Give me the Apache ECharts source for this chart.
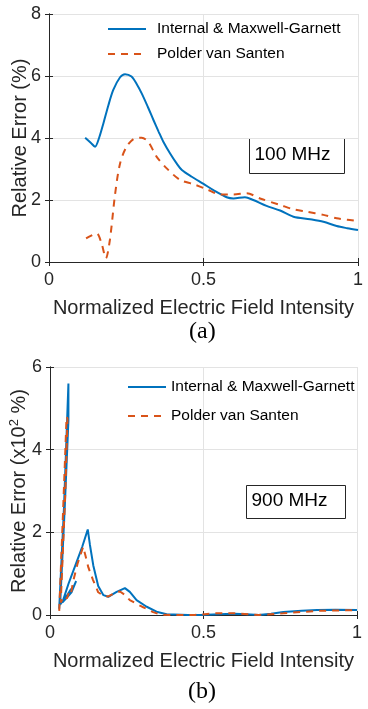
<!DOCTYPE html>
<html>
<head>
<meta charset="utf-8">
<script src="https://cdn.jsdelivr.net/npm/echarts@6/dist/echarts.min.js"></script>
<style>
  html, body { margin: 0; padding: 0; background: #fff; }
  #chart { width: 368px; height: 709px; }
</style>
</head>
<body>
<div id="chart"></div>
<script>
// 数据 (a) 100 MHz
const xTicks = [0, 0.5, 1];
const seriesNames = ['Internal & Maxwell-Garnett', 'Polder van Santen'];

const mg100 = [
  [0.117, 4.01], [0.135, 3.85], [0.149, 3.72], [0.162, 4.0], [0.176, 4.47], [0.192, 5.05],
  [0.208, 5.55], [0.23, 5.96], [0.246, 6.06], [0.267, 5.98], [0.285, 5.72], [0.30, 5.44],
  [0.32, 5.0], [0.338, 4.58], [0.355, 4.2], [0.37, 3.88], [0.392, 3.5], [0.413, 3.18],
  [0.43, 2.97], [0.462, 2.75], [0.5, 2.52], [0.532, 2.32], [0.575, 2.09], [0.597, 2.05],
  [0.634, 2.09], [0.661, 2.0], [0.704, 1.81], [0.748, 1.66], [0.791, 1.46], [0.845, 1.38],
  [0.888, 1.30], [0.931, 1.16], [0.965, 1.09], [1.0, 1.03]
];
const pvs100 = [
  [0.12, 0.76], [0.154, 0.92], [0.17, 0.6], [0.184, 0.12], [0.197, 0.71], [0.214, 2.2],
  [0.23, 3.18], [0.251, 3.72], [0.278, 3.99], [0.30, 4.01], [0.321, 3.88], [0.348, 3.4],
  [0.381, 3.02], [0.424, 2.65], [0.467, 2.51], [0.51, 2.35], [0.553, 2.18], [0.597, 2.18],
  [0.64, 2.22], [0.683, 2.05], [0.748, 1.84], [0.791, 1.70], [0.834, 1.62], [0.888, 1.52],
  [0.931, 1.41], [0.965, 1.36], [1.0, 1.32]
];

// 数据 (b) 900 MHz
const mg900 = [
  [0.030, 0.15], [0.045, 2.5], [0.060, 5.60], [0.060, 4.70], [0.048, 2.6], [0.033, 0.25],
  [0.045, 0.38], [0.058, 0.50], [0.068, 0.62], [0.075, 0.65], [0.085, 0.82], [0.070, 0.55],
  [0.055, 0.42], [0.040, 0.30], [0.060, 0.75], [0.085, 1.25], [0.105, 1.65], [0.123, 2.07],
  [0.130, 1.70], [0.141, 1.20], [0.157, 0.70], [0.174, 0.48], [0.190, 0.44], [0.217, 0.56],
  [0.244, 0.65], [0.26, 0.56], [0.282, 0.36], [0.315, 0.20], [0.347, 0.08], [0.38, 0.02],
  [0.45, 0.0], [0.49, 0.0], [0.55, 0.02], [0.60, 0.03], [0.64, 0.02], [0.68, 0.0],
  [0.72, 0.03], [0.76, 0.07], [0.82, 0.1], [0.87, 0.12], [0.93, 0.13], [1.0, 0.12]
];
const pvs900 = [
  [0.030, 0.10], [0.042, 2.4], [0.054, 4.8], [0.057, 4.75], [0.050, 3.0], [0.035, 0.3],
  [0.045, 0.45], [0.055, 0.40], [0.062, 0.55], [0.068, 0.50], [0.075, 0.80], [0.090, 1.25],
  [0.108, 1.65], [0.115, 1.45], [0.125, 1.15], [0.140, 0.85], [0.157, 0.55], [0.175, 0.46],
  [0.190, 0.45], [0.215, 0.55], [0.228, 0.57], [0.245, 0.48], [0.26, 0.36], [0.30, 0.20],
  [0.336, 0.07], [0.36, 0.01], [0.40, 0.0], [0.47, 0.0], [0.54, 0.04], [0.60, 0.04],
  [0.68, 0.0], [0.76, 0.04], [0.87, 0.10], [0.93, 0.11], [1.0, 0.12]
];

const AX = '#262626';
const GRIDC = '#e3e3e3';
const FONT = 'Liberation Sans, Arial, sans-serif';

function xAx(grid, top) {
  return {
    type: 'value', gridIndex: grid, position: top ? 'top' : 'bottom',
    min: 0, max: 1, interval: 0.5,
    axisLine: { show: true, lineStyle: { color: AX, width: 1 } },
    axisTick: { show: true, inside: true, length: 4, lineStyle: { color: AX } },
    axisLabel: { show: !top, color: AX, fontSize: 18, fontFamily: FONT, margin: 9,
      formatter: v => v === 0.5 ? '0.5' : String(v) },
    splitLine: { show: !top, lineStyle: { color: GRIDC } },
    name: top ? '' : 'Normalized Electric Field Intensity',
    nameLocation: 'middle', nameGap: 36, nameMoveOverlap: false,
    nameTextStyle: { color: AX, fontSize: 20, fontFamily: FONT }
  };
}
function yAx(grid, right, max, name, gap) {
  return {
    type: 'value', gridIndex: grid, position: right ? 'right' : 'left',
    min: 0, max: max, interval: 2,
    axisLine: { show: true, lineStyle: { color: AX, width: 1 } },
    axisTick: { show: true, inside: true, length: 4, lineStyle: { color: AX } },
    axisLabel: { show: !right, color: AX, fontSize: 18, fontFamily: FONT, margin: 8 },
    splitLine: { show: !right, lineStyle: { color: GRIDC } },
    name: right ? '' : name,
    nameLocation: 'middle', nameGap: gap, nameMoveOverlap: false,
    nameTextStyle: { color: AX, fontSize: 20, fontFamily: FONT,
      rich: {
        a: { fontSize: 20, fontFamily: FONT, color: AX },
        s: { fontSize: 13, fontFamily: FONT, color: AX, verticalAlign: 'top', padding: [0, 0, 10, 0] }
      } }
  };
}
function lineSeries(name, data, xi, yi, dashed, smooth) {
  return {
    name: name, type: 'line', data: data, xAxisIndex: xi, yAxisIndex: yi,
    symbol: 'none', smooth: smooth, animation: false,
    lineStyle: dashed
      ? { color: '#D95319', width: 2, type: [7, 6] }
      : { color: '#0072BD', width: 2 },
    itemStyle: { color: dashed ? '#D95319' : '#0072BD' }
  };
}
function legendAt(left, top, gap, pad) {
  return {
    data: seriesNames, orient: 'vertical', left: left, top: top,
    itemWidth: 38, itemHeight: 14, itemGap: gap,
    itemStyle: { opacity: 0, borderWidth: 0 },
    selectedMode: false,
    textStyle: { color: '#000', fontSize: 15.5, fontFamily: FONT, padding: [0, 0, 0, pad] }
  };
}
function boxLabel(x, y, w, h, text) {
  return {
    type: 'group', left: x, top: y,
    children: [
      { type: 'rect', shape: { x: 0, y: 0, width: w, height: h },
        style: { fill: '#fff', stroke: '#262626', lineWidth: 1 } },
      { type: 'text', left: 5, top: (h - 21) / 2,
        style: { text: text, fill: '#000', font: '19px ' + FONT } }
    ]
  };
}

const chart = echarts.init(document.getElementById('chart'), null, { renderer: 'canvas' });
chart.setOption({
  backgroundColor: '#fff',
  animation: false,
  grid: [
    { left: 49, top: 14, width: 309, height: 248, outerBoundsMode: 'none', containLabel: false },
    { left: 50, top: 367, width: 307, height: 248, outerBoundsMode: 'none', containLabel: false }
  ],
  xAxis: [xAx(0, false), xAx(0, true), xAx(1, false), xAx(1, true)],
  yAxis: [
    yAx(0, false, 8, 'Relative Error (%)', 19), yAx(0, true, 8, '', 0),
    yAx(1, false, 6, '{a|Relative Error (x10}{s|2}{a| %)}', 19), yAx(1, true, 6, '', 0)
  ],
  legend: [legendAt(102, 16, 9, 6), legendAt(122, 374, 13, 0)],
  series: [
    lineSeries(seriesNames[0], mg100, 0, 0, false, 0.3),
    lineSeries(seriesNames[1], pvs100, 0, 0, true, 0.3),
    lineSeries(seriesNames[0], mg900, 2, 2, false, false),
    lineSeries(seriesNames[1], pvs900, 2, 2, true, false)
  ],
  graphic: [
    boxLabel(249, 138, 95, 35, '100 MHz'),
    boxLabel(246, 485, 99, 33, '900 MHz'),
    { type: 'text', left: 189, top: 320, style: { text: '(a)', fill: '#000', font: '24px Liberation Serif, Times New Roman, serif' } },
    { type: 'text', left: 188, top: 680, style: { text: '(b)', fill: '#000', font: '24px Liberation Serif, Times New Roman, serif' } }
  ]
});
</script>
</body>
</html>
